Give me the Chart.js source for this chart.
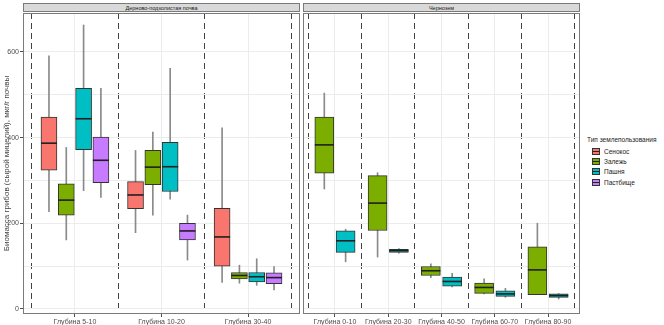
<!DOCTYPE html>
<html>
<head>
<meta charset="utf-8">
<script src="https://cdn.jsdelivr.net/npm/chart.js@4/dist/chart.umd.min.js"></script>
<style>
  body { margin: 0; background: #fff; font-family: "Liberation Sans", Arial, sans-serif; }
  #wrap { position: relative; width: 664px; height: 325px; }
  canvas { position: absolute; top: 0; }
  .strip { position: absolute; top: 3px; height: 9px; background: #d9d9d9; border: 1px solid #7a7a7a;
           box-sizing: border-box; font-size: 5.5px; line-height: 8px; text-align: center; color: #1a1a1a; }
  #legend { position: absolute; left: 587px; top: 136px; font-size: 6.5px; color: #1a1a1a; }
  #legend .title { margin-bottom: 3px; }
  #legend .item { height: 10.4px; display: flex; align-items: center; padding-left: 5px; }
  #legend .key { width: 8px; height: 7px; border: 1px solid #333; box-sizing: border-box; position: relative; margin-right: 4px; }
  #legend .key::after { content: ""; position: absolute; left: 0; right: 0; top: 2px; height: 1px; background: #222; }
</style>
</head>
<body>
<div id="wrap">
  <canvas id="left" width="300" height="325"></canvas>
  <canvas id="right" width="280" height="325" style="left:300px"></canvas>
  <div class="strip" style="left:23px;width:277px">Дерново-подзолистая почва</div>
  <div class="strip" style="left:303px;width:277px">Чернозем</div>
  <div id="legend"></div>
</div>
<script>
// категории по панелям
const soils = ['Дерново-подзолистая почва', 'Чернозем'];
const depthsPodzol = ['Глубина 5-10', 'Глубина 10-20', 'Глубина 30-40'];
const depthsChern = ['Глубина 0-10', 'Глубина 20-30', 'Глубина 40-50', 'Глубина 60-70', 'Глубина 80-90'];
const landUse = ['Сенокос', 'Залежь', 'Пашня', 'Пастбище'];
const landColors = ['#F8766D', '#7CAE00', '#00BFC4', '#C77CFF'];
const yTitle = 'Биомасса грибов (сырой мицелий), мкг/г почвы';
const yTicks = [0, 100, 200, 300, 400, 500, 600];

// [нижний ус, Q1, медиана, Q3, верхний ус] по глубинам
const podzolSenokos   = [[227, 324, 387, 448, 591], [178, 234, 266, 297, 370], [62, 100, 168, 235, 423]];
const podzolZalezh    = [[161, 219, 254, 292, 377], [219, 290, 331, 370, 413], [60, 70, 78, 85, 102]];
const podzolPashnya   = [[276, 372, 444, 515, 663], [256, 274, 332, 389, 562], [55, 63, 75, 85, 117]];
const podzolPastbishe = [[260, 295, 347, 401, 515], [114, 161, 182, 200, 219], [44, 59, 73, 84, 99]];
const chernZalezh  = [[280, 317, 383, 448, 504], [121, 183, 247, 311, 318], [73, 78, 89, 99, 105], [35, 36, 50, 60, 70], [33, 33, 91, 145, 200]];
const chernPashnya = [[110, 132, 159, 182, 186], [130, 132, 136, 139, 141], [51, 53, 64, 74, 83], [27, 29, 35, 42, 48], [23, 27, 31, 35, 36]];

const PANEL_W = 277;
const Y_MIN = -12, Y_MAX = 691;

// рамка панели
const framePlugin = {
  id: 'frame',
  afterDraw(chart) {
    const a = chart.chartArea, ctx = chart.ctx;
    ctx.save();
    ctx.strokeStyle = '#7a7a7a';
    ctx.lineWidth = 1;
    ctx.strokeRect(Math.round(a.left) + 0.5, Math.round(a.top) + 0.5, Math.round(a.right - a.left) - 1, Math.round(a.bottom - a.top) - 1);
    ctx.restore();
  }
};

// без запаса под подписи по краям
function noPad(s) {
  s.paddingLeft = 0; s.paddingRight = 0; s.paddingTop = 0; s.paddingBottom = 0;
}

function makePanel(canvasId, cats, groups, showY) {
  const n = groups.length;
  const step = 0.8 / n;
  const pxPerUnit = PANEL_W / (cats.length + 0.2);
  const boxW = Math.round(step * 0.9 * pxPerUnit);
  const datasets = [];
  groups.forEach((g, gi) => {
    const off = (gi - (n - 1) / 2) * step;
    const col = landColors[landUse.indexOf(g.name)];
    datasets.push({
      type: 'scatter', label: g.name,
      data: g.values.map((v, i) => ({ x: i + 1 + off, y: v[2] })),
      pointStyle: 'line', radius: boxW / 2, borderColor: '#1f1f1f', borderWidth: 1.6,
      order: 1
    });
    datasets.push({
      type: 'bar', label: g.name,
      data: g.values.map((v, i) => ({ x: i + 1 + off, y: [v[1], v[3]] })),
      backgroundColor: col, borderColor: '#333', borderWidth: 1, borderSkipped: false,
      barThickness: boxW, grouped: false, order: 2
    });
    datasets.push({
      type: 'bar', label: g.name,
      data: g.values.map((v, i) => ({ x: i + 1 + off, y: [v[0], v[4]] })),
      backgroundColor: '#8a8a8a', barThickness: 1, grouped: false, order: 3
    });
  });

  return new Chart(document.getElementById(canvasId), {
    type: 'bar',
    data: { datasets },
    options: {
      responsive: false,
      animation: false,
      layout: { autoPadding: false, padding: { top: 13, left: 0, right: 0, bottom: 0 } },
      plugins: { legend: { display: false }, tooltip: { enabled: false } },
      scales: {
        x: {
          type: 'linear', min: 0.4, max: cats.length + 0.6, offset: false,
          afterBuildTicks: s => { s.ticks = cats.map((c, i) => ({ value: i + 1 })); },
          afterFit: s => { s.height = 11; noPad(s); },
          ticks: {
            callback: v => cats[v - 1], padding: 1, maxRotation: 0, autoSkip: false,
            color: '#4d4d4d', font: { size: 7, family: 'Liberation Sans' }
          },
          grid: { color: '#ececec', tickColor: '#4d4d4d', tickLength: 3, offset: false },
          border: { display: false }
        },
        xs: {
          type: 'linear', position: 'top', min: 0.4, max: cats.length + 0.6, offset: false,
          afterBuildTicks: s => { s.ticks = cats.concat(['']).map((c, i) => ({ value: i + 0.5 })); },
          afterFit: s => { s.height = 0; noPad(s); },
          ticks: { display: false },
          grid: { color: '#444', lineWidth: 1, drawTicks: false, offset: false, borderDash: [6, 4] },
          border: { display: false, dash: [6, 4] }
        },
        y: {
          min: Y_MIN, max: Y_MAX,
          afterBuildTicks: s => { s.ticks = yTicks.map(v => ({ value: v })); },
          afterFit: s => { s.width = showY ? 23 : 3; noPad(s); },
          ticks: {
            display: showY,
            callback: v => (v % 200 === 0 ? String(v) : ''),
            padding: 1, color: '#4d4d4d', font: { size: 7, family: 'Liberation Sans' }
          },
          grid: {
            color: '#ececec', tickLength: 3, drawTicks: showY,
            tickColor: c => (c.tick && c.tick.value % 200 === 0 ? '#4d4d4d' : 'rgba(0,0,0,0)')
          },
          border: { display: false },
          title: {
            display: showY, text: yTitle, padding: { top: 2, bottom: 0 },
            color: '#444', font: { size: 8, family: 'Liberation Sans' }
          }
        }
      }
    },
    plugins: [framePlugin]
  });
}

makePanel('left', depthsPodzol, [
  { name: 'Сенокос', values: podzolSenokos },
  { name: 'Залежь', values: podzolZalezh },
  { name: 'Пашня', values: podzolPashnya },
  { name: 'Пастбище', values: podzolPastbishe }
], true);

makePanel('right', depthsChern, [
  { name: 'Залежь', values: chernZalezh },
  { name: 'Пашня', values: chernPashnya }
], false);

// легенда
const legend = document.getElementById('legend');
legend.innerHTML = '<div class="title">Тип землепользования</div>' +
  landUse.map((name, i) =>
    '<div class="item"><span class="key" style="background:' + landColors[i] + '"></span>' + name + '</div>'
  ).join('');
</script>
</body>
</html>
